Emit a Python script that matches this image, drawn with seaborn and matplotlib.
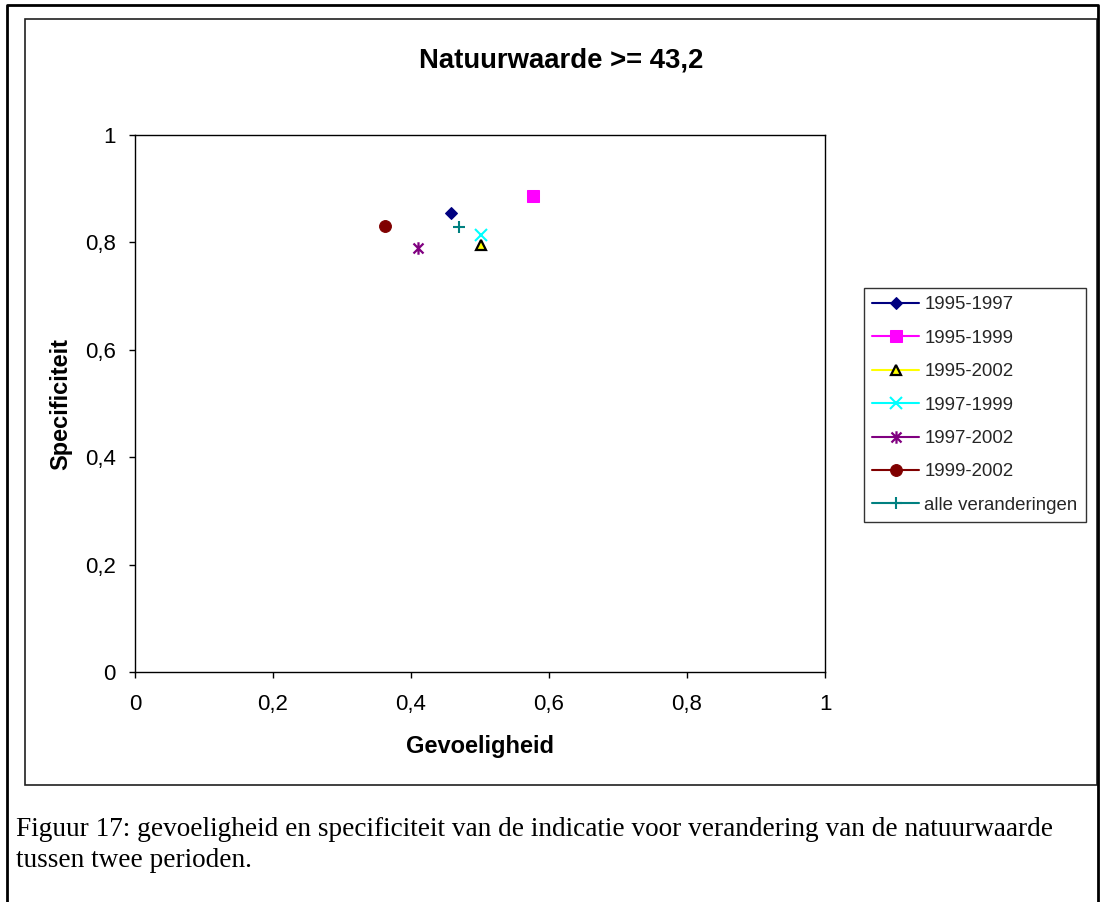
import matplotlib
matplotlib.use("Agg")
import matplotlib.pyplot as plt
from matplotlib.path import Path
from matplotlib.lines import Line2D
from matplotlib.patches import Rectangle
import seaborn as sns

# Sensitivity (x) and specificity (y) per comparison period
periods = ["1995-1997", "1995-1999", "1995-2002", "1997-1999",
           "1997-2002", "1999-2002", "alle veranderingen"]
gevoeligheid = [0.458, 0.577, 0.501, 0.501, 0.410, 0.362, 0.469]
specificiteit = [0.855, 0.887, 0.796, 0.813, 0.790, 0.831, 0.828]

x_ticks = [0, 0.2, 0.4, 0.6, 0.8, 1]
x_ticklabels = ["0", "0,2", "0,4", "0,6", "0,8", "1"]
y_ticks = [0, 0.2, 0.4, 0.6, 0.8, 1]
y_ticklabels = ["0", "0,2", "0,4", "0,6", "0,8", "1"]

title = "Natuurwaarde >= 43,2"
caption_lines = [
    "Figuur 17: gevoeligheid en specificiteit van de indicatie voor verandering van de natuurwaarde",
    "tussen twee perioden.",
]

# Excel-style asterisk: vertical bar plus two diagonals
star_path = Path(
    [(0, -1), (0, 1), (-0.8, -0.8), (0.8, 0.8), (-0.8, 0.8), (0.8, -0.8)],
    [Path.MOVETO, Path.LINETO, Path.MOVETO, Path.LINETO, Path.MOVETO, Path.LINETO],
)

styles = [
    dict(color="#000080", marker="D", markersize=6.5, markerfacecolor="#000080", markeredgecolor="#000080"),
    dict(color="#FF00FF", marker="s", markersize=8.0, markerfacecolor="#FF00FF", markeredgecolor="#FF00FF"),
    dict(color="#FFFF00", marker="^", markersize=7.5, markerfacecolor="#FFFF00", markeredgecolor="black", markeredgewidth=1.6),
    dict(color="#00FFFF", marker="x", markersize=8.0, markeredgecolor="#00FFFF", markeredgewidth=1.5),
    dict(color="#800080", marker=star_path, markersize=9.0, markeredgecolor="#800080", markeredgewidth=1.6),
    dict(color="#800000", marker="o", markersize=8.5, markerfacecolor="#800000", markeredgecolor="#800000"),
    dict(color="#008080", marker="+", markersize=8.5, markeredgecolor="#008080", markeredgewidth=1.5),
]

sns.set_theme(style="white")
plt.rcParams["font.family"] = ["Liberation Sans", "DejaVu Sans"]

W, H = 1101, 902
fig = plt.figure(figsize=(W / 100, H / 100), dpi=100)
fig.patch.set_facecolor("white")

ax = fig.add_axes([135 / W, 1 - 672 / H, (825 - 135) / W, (672 - 135) / H])

for name, gx, sy, st in zip(periods, gevoeligheid, specificiteit, styles):
    sns.lineplot(x=[gx], y=[sy], ax=ax, label=name, linewidth=1.5, **st)

ax.set_xlim(0, 1)
ax.set_ylim(0, 1)
ax.set_xticks(x_ticks)
ax.set_xticklabels(x_ticklabels)
ax.set_yticks(y_ticks)
ax.set_yticklabels(y_ticklabels)
ax.tick_params(axis="both", which="major", direction="out", length=4,
               width=1, color="black", labelsize=16, labelcolor="black")
ax.tick_params(axis="x", bottom=True, pad=12)
ax.tick_params(axis="y", left=True, pad=10)
for sp in ax.spines.values():
    sp.set_visible(True)
    sp.set_color("black")
    sp.set_linewidth(1.0)
ax.grid(False)

ax.set_xlabel("Gevoeligheid", fontsize=17, fontweight="bold", labelpad=14, color="black")
ax.set_ylabel("Specificiteit", fontsize=17, fontweight="bold", labelpad=9, color="black")

fig.text(561 / W, 1 - 60 / H, title, ha="center", va="center",
         fontsize=19.8, fontweight="bold", color="black")

leg = ax.legend(loc="upper left", bbox_to_anchor=(864 / W, 1 - 288 / H),
                bbox_transform=fig.transFigure, borderaxespad=0,
                fontsize=13.4, frameon=True, fancybox=False, shadow=False,
                handlelength=2.5, handletextpad=0.3, labelspacing=0.88,
                borderpad=0.45, numpoints=1)
leg.get_frame().set_edgecolor("black")
leg.get_frame().set_linewidth(1.0)

# Chart area frame and outer text-box frame
fig.add_artist(Rectangle((25 / W, 1 - 785 / H), (1097 - 25) / W, (785 - 19) / H,
                         transform=fig.transFigure, fill=False,
                         edgecolor="#202020", linewidth=1.2))
outer_x = [7 / W, 7 / W, 1098 / W, 1098 / W]
outer_y = [0, 1 - 5 / H, 1 - 5 / H, 0]
fig.add_artist(Line2D(outer_x, outer_y, transform=fig.transFigure,
                      color="black", linewidth=2.0))

for i, line in enumerate(caption_lines):
    fig.text(16 / W, 1 - (836 + 31 * i) / H, line, ha="left", va="baseline",
             fontsize=19.6, family=["Liberation Serif", "DejaVu Serif"], color="black")

fig.savefig("out.png", dpi=100, facecolor="white")
